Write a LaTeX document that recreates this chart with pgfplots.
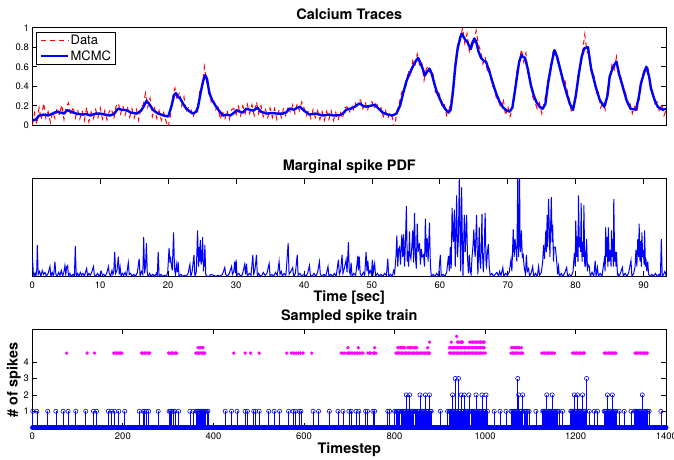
\documentclass[border=0pt]{standalone}
\usepackage{fontspec}
\setmainfont{TeX Gyre Heros}
\usepackage{pgfplots}
\pgfplotsset{compat=1.18}
\definecolor{mlmag}{rgb}{1,0,1}

\pgfplotsset{
  panel/.style={
    anchor=south west, width=634bp, scale only axis,
    xmin=0, xmax=1400,
    axis line style={line width=0.8bp},
    tick style={black, line width=0.8bp},
    major tick length=5bp,
    tick label style={font=\fontsize{9.5}{11}\selectfont},
    /pgf/number format/assume math mode=true,
    /pgf/number format/1000 sep={},
    title style={anchor=base, yshift=2.5bp, font=\bfseries\fontsize{14.5}{16}\selectfont},
    label style={font=\bfseries\fontsize{14.5}{16}\selectfont},
  },
}

\begin{document}
\begin{tikzpicture}
\path[use as bounding box] (0,0) rectangle (674bp,460bp);

% ---------------- top: calcium traces
\begin{axis}[panel,
  at={(32.3bp,334.7bp)}, height=97.6bp,
  ymin=0, ymax=1,
  xtick=\empty, ytick={0,0.2,0.4,0.6,0.8,1},
  title={Calcium Traces},
  legend style={at={(0.0058,0.953)}, anchor=north west, draw=black,
    font=\fontsize{13}{14}\selectfont, inner xsep=3.5bp, inner ysep=2bp,
    row sep=2bp, nodes={inner sep=1bp}},
  legend cell align=left,
  legend image code/.code={\draw[#1] (0bp,0bp) -- (27.6bp,0bp);},
]
\addplot[red, line width=1bp, dash pattern=on 5bp off 4bp] coordinates {
(0,0.00)(5,0.125)(10,0.01)(15,0.18)(20,0.055)(25,0.23)(30,0.075)(35,0.14)(40,0.03)(45,0.14)
(50,0.07)(55,0.18)(60,0.105)(65,0.21)(70,0.06)(75,0.19)(80,0.23)(85,0.10)(90,0.19)(95,0.075)
(100,0.16)(105,0.065)(110,0.15)(115,0.05)(120,0.185)(125,0.035)(130,0.135)(135,0.07)(140,0.16)(145,0.08)
(150,0.18)(155,0.065)(160,0.15)(165,0.055)(170,0.14)(175,0.17)(180,0.065)(185,0.195)(190,0.23)(195,0.12)
(200,0.20)(205,0.105)(210,0.19)(215,0.085)(220,0.17)(225,0.075)(230,0.16)(235,0.05)(240,0.19)(245,0.21)
(250,0.33)(255,0.185)(260,0.28)(265,0.09)(270,0.175)(275,0.07)(280,0.15)(285,0.052)(290,0.13)(295,0.045)
(300,-0.02)(305,0.10)(310,0.29)(315,0.38)(320,0.26)(325,0.34)(330,0.20)(335,0.29)(340,0.13)(345,0.19)
(350,0.17)(355,0.08)(360,0.165)(365,0.14)(370,0.36)(375,0.38)(380,0.60)(385,0.44)(390,0.40)(395,0.24)
(400,0.27)(405,0.16)(410,0.19)(415,0.06)(420,0.15)(425,0.055)(430,0.15)(435,0.06)(440,0.16)(445,0.173)
(450,0.11)(455,0.193)(460,0.10)(465,0.20)(470,0.12)(475,0.214)(480,0.12)(485,0.21)(490,0.102)(495,0.24)
(500,0.12)(505,0.20)(510,0.09)(515,0.16)(520,0.08)(525,0.177)(530,0.08)(535,0.17)(540,0.06)(545,0.16)
(550,0.08)(555,0.177)(560,0.09)(565,0.20)(570,0.13)(575,0.21)(580,0.12)(585,0.22)(590,0.15)(595,0.24)
(600,0.18)(605,0.10)(610,0.15)(615,0.07)(620,0.16)(625,0.08)(630,0.15)(635,0.06)(640,0.14)(645,0.05)
(650,0.14)(655,0.06)(660,0.15)(665,0.05)(670,0.13)(675,0.05)(680,0.14)(685,0.07)(690,0.18)(695,0.19)
(700,0.13)(705,0.21)(710,0.15)(715,0.24)(720,0.25)(725,0.26)(730,0.17)(735,0.24)(740,0.15)(745,0.23)
(750,0.24)(755,0.17)(760,0.24)(765,0.14)(770,0.18)(775,0.09)(780,0.15)(785,0.07)(790,0.13)(795,0.08)
(800,-0.02)(805,0.14)(810,0.22)(815,0.33)(820,0.38)(825,0.40)(830,0.56)(835,0.50)(840,0.66)(845,0.61)
(850,0.73)(855,0.62)(860,0.65)(865,0.46)(870,0.58)(875,0.61)(880,0.50)(885,0.52)(890,0.34)(895,0.37)
(900,0.30)(905,0.18)(910,0.21)(915,0.10)(920,0.16)(925,0.25)(930,0.45)(935,0.68)(940,0.86)(945,0.87)
(950,1.00)(955,0.84)(960,0.94)(965,0.76)(970,0.85)(975,0.82)(980,0.97)(985,0.83)(990,0.76)(995,0.63)
(1000,0.70)(1005,0.55)(1010,0.58)(1015,0.40)(1020,0.39)(1025,0.27)(1030,0.25)(1035,0.17)(1040,0.27)(1045,0.10)
(1050,0.20)(1055,0.09)(1060,0.17)(1065,0.30)(1070,0.56)(1075,0.62)(1080,0.78)(1085,0.65)(1090,0.74)(1095,0.52)
(1100,0.47)(1105,0.29)(1110,0.24)(1115,0.17)(1120,0.23)(1125,0.12)(1130,0.22)(1135,0.34)(1140,0.50)(1145,0.56)
(1150,0.76)(1155,0.78)(1160,0.64)(1165,0.62)(1170,0.46)(1175,0.48)(1180,0.38)(1185,0.28)(1190,0.15)(1195,0.21)
(1200,0.26)(1205,0.51)(1210,0.60)(1215,0.76)(1220,0.93)(1225,0.75)(1230,0.72)(1235,0.52)(1240,0.52)(1245,0.33)
(1250,0.34)(1255,0.18)(1260,0.23)(1265,0.16)(1270,0.36)(1275,0.45)(1280,0.62)(1285,0.57)(1290,0.70)(1295,0.49)
(1300,0.49)(1305,0.33)(1310,0.34)(1315,0.19)(1320,0.22)(1325,0.12)(1330,0.19)(1335,0.13)(1340,0.28)(1345,0.41)
(1350,0.56)(1355,0.55)(1360,0.58)(1365,0.41)(1370,0.34)(1375,0.22)(1380,0.24)(1385,0.13)(1390,0.22)(1395,0.10)(1400,0.16)
};
\addlegendentry{Data}
\addplot[blue, line width=2.4bp, line join=round] coordinates {
(0,0.05)(8,0.06)(15,0.10)(25,0.11)(35,0.10)(45,0.12)(54,0.14)(62,0.13)(70,0.12)(77,0.155)
(85,0.14)(97,0.12)(110,0.11)(120,0.115)(128,0.10)(140,0.12)(150,0.12)(160,0.11)(171,0.10)(180,0.115)
(189,0.17)(197,0.16)(208,0.155)(218,0.13)(231,0.12)(240,0.15)(247,0.20)(252,0.25)(258,0.22)(267,0.155)
(278,0.12)(290,0.10)(300,0.09)(307,0.19)(313,0.31)(317,0.33)(322,0.29)(326,0.28)(333,0.22)(340,0.17)
(348,0.14)(355,0.12)(362,0.14)(366,0.19)(372,0.34)(377,0.45)(382,0.515)(386,0.47)(391,0.33)(397,0.26)
(406,0.19)(414,0.14)(421,0.10)(430,0.11)(437,0.10)(446,0.13)(451,0.155)(458,0.14)(465,0.13)(472,0.17)
(480,0.16)(488,0.15)(497,0.18)(505,0.14)(517,0.12)(530,0.125)(541,0.12)(553,0.12)(560,0.13)(568,0.17)
(578,0.16)(585,0.18)(591,0.19)(600,0.15)(612,0.11)(625,0.12)(642,0.10)(655,0.11)(665,0.10)(680,0.105)
(688,0.13)(693,0.16)(703,0.17)(712,0.19)(718,0.21)(723,0.225)(730,0.20)(738,0.19)(747,0.20)(756,0.21)
(765,0.17)(774,0.13)(785,0.11)(795,0.10)(804,0.12)(812,0.20)(819,0.33)(826,0.45)(833,0.53)(840,0.60)
(847,0.66)(852,0.69)(857,0.64)(862,0.58)(867,0.51)(872,0.55)(877,0.58)(882,0.53)(887,0.44)(893,0.345)
(900,0.27)(906,0.21)(913,0.16)(919,0.13)(924,0.16)(929,0.35)(934,0.60)(939,0.78)(945,0.90)(948,0.94)
(953,0.90)(957,0.87)(960,0.86)(964,0.82)(968,0.78)(972,0.84)(976,0.89)(980,0.86)(985,0.76)(991,0.69)
(997,0.66)(1002,0.65)(1010,0.54)(1017,0.43)(1024,0.33)(1032,0.24)(1040,0.18)(1048,0.15)(1054,0.14)(1060,0.18)
(1065,0.33)(1071,0.52)(1075,0.65)(1080,0.72)(1084,0.70)(1088,0.69)(1094,0.58)(1101,0.41)(1107,0.31)(1113,0.24)
(1120,0.19)(1127,0.17)(1133,0.22)(1139,0.43)(1146,0.62)(1153,0.77)(1159,0.70)(1167,0.55)(1173,0.44)(1179,0.34)
(1187,0.22)(1194,0.157)(1200,0.30)(1207,0.53)(1213,0.70)(1219,0.79)(1227,0.80)(1234,0.58)(1240,0.47)(1245,0.38)
(1253,0.26)(1263,0.19)(1270,0.30)(1275,0.50)(1281,0.58)(1285,0.62)(1290,0.65)(1296,0.52)(1303,0.41)(1312,0.26)
(1321,0.17)(1333,0.16)(1339,0.28)(1344,0.43)(1351,0.54)(1356,0.60)(1362,0.50)(1366,0.38)(1374,0.26)(1381,0.19)
(1392,0.16)(1400,0.17)
};
\addlegendentry{MCMC}
\end{axis}

% ---------------- middle: marginal spike PDF
\begin{axis}[panel,
  at={(32.3bp,183.7bp)}, height=97.6bp,
  ymin=0, ymax=1, ytick=\empty,
  xtick={0,150,...,1350}, xticklabels={0,10,20,30,40,50,60,70,80,90},
  xticklabel style={yshift=-1.5bp},
  title={Marginal spike PDF},
  xlabel={Time [sec]},
  xlabel style={at={(0.5,-0.26)}, anchor=base},
]
\addplot[blue, line width=1bp] coordinates {
(0,0.22)(2,0.05)(4,0)(6,0.03)(8,0)(10,0.08)(11,0.32)(13,0.02)(16,0.05)(19,0)(22,0.06)(25,0.02)(28,0.04)(31,0)(35,0.03)
(39,0.10)(41,0)(44,0.04)(47,0)(50,0.15)(52,0.02)(55,0)(58,0.04)(61,0.01)(64,0.06)(67,0)(70,0.05)(72,0.11)(74,0.02)
(76,0.10)(78,0.11)(80,0)(83,0.03)(86,0)(90,0.02)(93,0)(95,0.31)(97,0)(100,0.03)(103,0)(106,0.04)(109,0.01)(112,0.03)
(115,0)(118,0.05)(120,0.08)(122,0)(125,0.03)(128,0.01)(131,0.04)(135,0.10)(137,0.02)(140,0)(144,0.03)(148,0)(152,0.05)
(155,0.01)(158,0.02)(161,0)(165,0.04)(168,0.10)(170,0.03)(173,0)(176,0.06)(178,0.02)(180,0.05)(182,0.25)(184,0.03)
(187,0.06)(190,0.20)(192,0.02)(194,0.09)(196,0)(199,0.03)(202,0.01)(205,0.04)(208,0)(212,0.14)(214,0.02)(217,0.03)
(220,0)(224,0.02)(228,0)(232,0.04)(236,0.18)(238,0)(241,0.05)(244,0.02)(246,0.40)(248,0.03)(250,0.10)(252,0.34)
(254,0.02)(256,0)(259,0.03)(262,0)(266,0.02)(270,0)(274,0.03)(276,0)(278,0.25)(280,0)(284,0.02)(288,0)(292,0.01)
(296,0)(299,0.04)(302,0.29)(304,0.14)(305,0.20)(307,0.12)(309,0.06)(312,0.45)(314,0.08)(316,0.02)(318,0.12)(320,0.04)
(322,0.15)(324,0)(328,0.02)(332,0)(336,0.01)(340,0)(344,0.03)(348,0.12)(350,0)(353,0.05)(357,0.22)(359,0)(362,0.04)
(365,0.47)(367,0.10)(368,0.30)(370,0.15)(371,0.37)(373,0.12)(374,0.27)(375,0.15)(376,0.40)(378,0.05)(379,0.16)
(380,0.10)(381,0.32)(383,0.02)(386,0)(390,0)(395,0.02)(400,0.01)(405,0)(410,0.01)(415,0)(420,0.02)(425,0.09)(427,0.02)
(431,0)(435,0.03)(440,0.10)(442,0.02)(445,0.05)(447,0.15)(449,0.03)(450,0.17)(452,0.01)(456,0.03)(460,0)(464,0.02)
(469,0.12)(471,0.02)(473,0.13)(475,0)(479,0.03)(483,0.01)(487,0.22)(489,0.02)(492,0.08)(495,0.22)(497,0)(500,0.03)
(502,0.01)(506,0)(510,0.04)(514,0.01)(518,0.03)(523,0.13)(525,0)(529,0.02)(533,0)(537,0.04)(541,0.01)(545,0.15)
(547,0.02)(550,0.05)(552,0)(556,0.03)(560,0.01)(565,0.34)(567,0.02)(571,0.05)(575,0.09)(577,0)(581,0.03)(585,0.22)
(587,0.01)(591,0.03)(595,0)(600,0.02)(604,0)(608,0.03)(612,0.11)(614,0.01)(618,0)(622,0.03)(626,0)(630,0.04)(634,0.15)
(636,0.02)(640,0)(644,0.02)(648,0)(653,0.10)(655,0)(659,0.02)(663,0)(667,0.03)(671,0)(676,0.17)(678,0.02)(681,0.06)
(684,0.22)(686,0.03)(689,0.08)(693,0.17)(695,0.04)(698,0.35)(700,0.05)(702,0.02)(704,0.14)(706,0)(710,0.03)(714,0.01)
(719,0.21)(720,0.06)(722,0.20)(724,0.03)(727,0)(731,0.04)(734,0.01)(737,0.25)(739,0.05)(741,0.16)(743,0.02)(746,0.06)
(749,0.02)(751,0.17)(753,0.04)(756,0.13)(758,0)(762,0.03)(766,0)(770,0.02)(774,0)(778,0.03)(782,0.01)(785,0.18)
(787,0)(791,0.02)(795,0)(798,0.06)(800,0.03)(803,0.20)(805,0.42)(807,0.10)(809,0.28)(811,0.30)(813,0.12)(816,0.43)
(818,0.20)(820,0.43)(822,0.10)(824,0.35)(826,0.72)(828,0.15)(829,0.26)(831,0.10)(833,0.46)(834,0.22)(836,0.18)
(838,0.30)(840,0.47)(842,0.14)(844,0.65)(846,0.20)(848,0.08)(850,0.54)(852,0.25)(855,0.34)(857,0.12)(859,0.28)
(861,0.20)(864,0.22)(866,0.10)(868,0.59)(870,0.20)(872,0.39)(874,0.15)(877,0.55)(879,0.12)(881,0)(885,0.02)(889,0)
(893,0.03)(897,0)(901,0.22)(903,0)(907,0.02)(911,0)(915,0.04)(919,0.21)(921,0.05)(923,0.30)(925,0.08)(927,0.70)
(929,0.40)(930,0.35)(932,0.68)(934,0.10)(937,0.83)(939,0.20)(941,0.39)(943,1.05)(945,0.30)(946,0.05)(948,0.91)
(950,0.25)(951,0)(954,0.63)(956,0.25)(959,0.63)(961,0.20)(963,0.03)(965,0.22)(967,0.05)(969,0.02)(971,0.20)(973,0.30)
(975,0.48)(977,0.25)(978,0.20)(981,0.63)(983,0.15)(984,0.02)(987,0.50)(988,0.20)(990,0.08)(993,0.64)(994,0.25)
(996,0.04)(998,0.30)(1000,0.65)(1002,0.12)(1003,0.10)(1005,0.25)(1007,0.33)(1009,0.10)(1011,0.01)(1015,0.03)(1018,0)
(1022,0.02)(1026,0.04)(1030,0)(1032,0.05)(1035,0.01)(1039,0.09)(1041,0)(1045,0.03)(1049,0.01)(1053,0.04)(1057,0.17)
(1059,0.05)(1062,0.48)(1064,0.20)(1066,0.38)(1068,0.28)(1070,0.15)(1072,1.05)(1073,0.40)(1074,0.20)(1076,1.05)
(1077,0.35)(1078,0.25)(1080,0.47)(1082,0.20)(1084,0.22)(1086,0.10)(1089,0.02)(1091,0.22)(1093,0.05)(1096,0.08)(1098,0)
(1102,0.04)(1105,0.10)(1107,0)(1111,0.03)(1115,0)(1118,0.10)(1120,0.01)(1124,0.04)(1127,0.15)(1129,0.32)(1131,0.18)
(1134,0.47)(1135,0.25)(1137,0.63)(1138,0.30)(1140,0.79)(1142,0.40)(1143,0.20)(1146,0.81)(1148,0.35)(1149,0.53)
(1151,0.15)(1152,0.30)(1155,0.30)(1157,0.20)(1158,0.15)(1160,0.02)(1162,0.10)(1164,0)(1168,0.03)(1172,0)(1176,0.04)
(1180,0.09)(1182,0)(1186,0.02)(1190,0)(1194,0.05)(1197,0.24)(1199,0.10)(1200,0.57)(1202,0.20)(1203,0.41)(1205,0.15)
(1206,0.83)(1208,0.30)(1209,0.40)(1211,0.25)(1212,0.75)(1214,0.15)(1215,0.35)(1217,0.20)(1218,0.73)(1220,0.10)
(1221,0.25)(1222,0.10)(1224,0.38)(1226,0.05)(1227,0.12)(1230,0.10)(1232,0)(1236,0.04)(1240,0)(1243,0.16)(1245,0)
(1248,0.09)(1250,0)(1254,0.03)(1258,0)(1263,0.17)(1265,0.05)(1266,0.50)(1268,0.20)(1269,0.40)(1271,0.10)(1272,0.50)
(1274,0.15)(1276,0.27)(1278,0.10)(1279,0.47)(1281,0.20)(1282,0.38)(1283,0.10)(1284,0.79)(1286,0.15)(1287,0.25)
(1289,0.10)(1290,0.25)(1292,0.02)(1293,0.03)(1296,0)(1300,0.05)(1303,0.09)(1305,0)(1309,0.03)(1313,0)(1317,0.04)
(1322,0.16)(1324,0)(1328,0.03)(1331,0.10)(1333,0.27)(1335,0.10)(1337,0.38)(1339,0.20)(1340,0.54)(1342,0.15)(1343,0.36)
(1345,0.10)(1346,0.45)(1348,0.20)(1349,0.27)(1351,0.12)(1352,0.47)(1354,0.10)(1355,0.18)(1357,0.05)(1359,0.15)
(1361,0.02)(1364,0)(1368,0.02)(1372,0)(1376,0.03)(1380,0)(1384,0.02)(1387,0)(1389,0.38)(1391,0)(1394,0.02)(1397,0.05)(1400,0)
};
\end{axis}

% ---------------- bottom: sampled spike train
\begin{axis}[panel,
  at={(32.3bp,32.3bp)}, height=98.4bp,
  ymin=0, ymax=6, ytick={1,2,3,4},
  xtick={0,200,...,1400},
  xticklabel style={yshift=-1.5bp},
  clip=false,
  title={Sampled spike train},
  xlabel={Timestep}, ylabel={\# of spikes},
  xlabel style={at={(0.5,-0.267)}, anchor=base},
  ylabel style={at={(-0.0233,0.485)}, rotate=0, anchor=base},
]
% zero-count samples merge into a band along the axis
\addplot[blue, line width=4.4bp, line cap=round] coordinates {(0,0)(1400,0)};
\addplot[blue, ycomb, line width=0.6bp, mark=o, mark size=2.1bp, mark options={solid, line width=0.6bp}] coordinates {
(1,1)(10,1)(34,1)(52,1)(68,1)(79,1)(96,1)(118,1)(135,1)(142,1)(168,1)(175,1)(182,1)(191,1)(204,1)
(236,1)(245,1)(248,1)(252,1)(257,1)(278,1)(302,1)(305,1)(308,1)(311,1)(315,1)(323,1)(348,1)(355,1)
(362,1)(364,1)(366,1)(368,1)(370,1)(372,1)(374,1)(376,1)(378,1)(380,1)(383,1)(386,1)(388,1)
(426,1)(440,1)(452,1)(470,1)(475,1)(489,1)(493,1)(501,1)(522,1)(534,1)(546,1)(566,1)(576,1)(581,1)
(589,1)(593,1)(620,1)(632,1)(656,1)(675,1)(686,1)(699,1)(704,1)(715,1)(721,1)(736,1)(740,1)(752,1)
(756,1)(785,1)(789,1)
(800,1)(803,1)(806,1)(809,1)(811,1)(814,1)(817,1)(820,1)(822,1)(824,1)(826,2)(829,1)(831,1)(833,2)
(835,1)(838,1)(840,1)(842,1)(845,1)(847,1)(850,1)(852,1)(854,1)(856,2)(859,1)(861,1)(863,1)(866,1)
(868,2)(870,1)(872,1)(874,1)(877,2)(879,1)(881,1)(901,1)(917,1)
(921,1)(923,1)(925,1)(927,1)(928,2)(930,1)(932,1)(934,3)(936,1)(938,1)(941,3)(943,1)(945,1)(947,2)
(949,1)(951,1)(954,2)(956,1)(958,1)(960,1)(962,1)(964,2)(966,1)(969,1)(971,1)(973,1)(976,1)(978,1)
(980,2)(983,1)(985,1)(987,1)(989,1)(991,1)(993,2)(996,1)(998,1)(1000,1)(1002,2)(1005,1)(1020,1)
(1033,1)(1046,1)
(1057,1)(1059,1)(1062,1)(1064,1)(1066,1)(1068,1)(1070,1)(1072,3)(1074,2)(1076,1)(1078,1)(1080,1)
(1083,2)(1086,1)(1088,1)(1091,1)(1094,1)(1097,1)(1112,1)
(1127,1)(1129,1)(1131,1)(1133,1)(1136,2)(1138,1)(1140,1)(1142,1)(1144,1)(1146,1)(1148,2)(1150,1)
(1152,1)(1154,1)(1157,1)(1160,1)(1163,1)(1171,1)
(1189,1)(1191,1)(1193,1)(1195,1)(1197,2)(1199,1)(1201,1)(1204,2)(1206,1)(1208,1)(1210,1)(1212,1)
(1215,2)(1217,1)(1219,1)(1222,1)(1224,3)(1230,1)(1241,1)(1248,1)
(1263,1)(1265,1)(1267,1)(1270,2)(1272,1)(1274,1)(1276,1)(1278,1)(1281,2)(1283,1)(1285,1)(1287,1)
(1289,1)(1296,1)(1307,1)(1322,1)
(1330,1)(1332,1)(1334,1)(1336,1)(1338,1)(1340,1)(1342,1)(1344,1)(1347,2)(1349,1)(1351,1)(1353,1)
(1356,1)(1359,1)(1362,1)(1388,1)
};
% samples of the spike train, one row each
\addplot[only marks, mark=*, mark size=1.5bp, mlmag] coordinates {
(76,4.55)(121,4.55)(137,4.55)(180,4.55)(183,4.55)(186,4.55)(189,4.55)(192,4.55)(195,4.55)(198,4.55)
(241,4.55)(244,4.55)(247,4.55)(250,4.55)(253,4.55)(256,4.55)(259,4.55)
(301,4.55)(304,4.55)(307,4.55)(310,4.55)(313,4.55)(316,4.55)(319,4.55)
(361,4.55)(364,4.55)(367,4.55)(370,4.55)(373,4.55)(376,4.55)(379,4.55)(381,4.55)
(445,4.55)(470,4.55)(482,4.55)(501,4.55)(562,4.55)(572,4.55)(576,4.55)(580,4.55)(584,4.55)(588,4.55)
(592,4.55)(598,4.55)(617,4.55)
(682,4.55)(686,4.55)(690,4.55)(695,4.55)(698,4.55)(701,4.55)(704,4.55)(707,4.55)(711,4.55)(715,4.55)
(718,4.55)(722,4.55)(726,4.55)(730,4.55)(741,4.55)(744,4.55)(747,4.55)(753,4.55)(756,4.55)(759,4.55)
(803,4.55)(806,4.55)(809,4.55)(812,4.55)(815,4.55)(818,4.55)(821,4.55)(824,4.55)(827,4.55)(830,4.55)
(833,4.55)(836,4.55)(839,4.55)(842,4.55)(845,4.55)(848,4.55)(851,4.55)(854,4.55)(857,4.55)(860,4.55)
(863,4.55)(866,4.55)(869,4.55)(872,4.55)(875,4.55)(877,4.55)
(921,4.55)(924,4.55)(927,4.55)(930,4.55)(933,4.55)(936,4.55)(939,4.55)(942,4.55)(945,4.55)(948,4.55)
(951,4.55)(954,4.55)(957,4.55)(960,4.55)(963,4.55)(966,4.55)(969,4.55)(972,4.55)(975,4.55)(978,4.55)
(981,4.55)(984,4.55)(987,4.55)(990,4.55)(993,4.55)(996,4.55)(1000,4.55)
(1057,4.55)(1060,4.55)(1063,4.55)(1066,4.55)(1069,4.55)(1072,4.55)(1075,4.55)(1078,4.55)(1081,4.55)(1083,4.55)
(1125,4.55)(1128,4.55)(1131,4.55)(1134,4.55)(1137,4.55)(1140,4.55)(1143,4.55)(1146,4.55)(1149,4.55)(1153,4.55)
(1193,4.55)(1196,4.55)(1199,4.55)(1202,4.55)(1205,4.55)(1208,4.55)(1211,4.55)(1214,4.55)(1217,4.55)(1219,4.55)
(1263,4.55)(1266,4.55)(1269,4.55)(1272,4.55)(1275,4.55)(1278,4.55)(1281,4.55)(1284,4.55)(1287,4.55)(1289,4.55)
(1331,4.55)(1334,4.55)(1337,4.55)(1340,4.55)(1343,4.55)(1346,4.55)(1349,4.55)(1352,4.55)(1355,4.55)(1358,4.55)
(366,4.88)(369,4.88)(372,4.88)(375,4.88)(377,4.88)(697,4.88)(720,4.88)(756,4.88)
(807,4.88)(810,4.88)(813,4.88)(816,4.88)(819,4.88)(822,4.88)(829,4.88)(832,4.88)(835,4.88)(838,4.88)
(843,4.88)(846,4.88)(849,4.88)(873,4.88)
(921,4.88)(924,4.88)(927,4.88)(930,4.88)(933,4.88)(936,4.88)(939,4.88)(942,4.88)(945,4.88)(948,4.88)
(951,4.88)(954,4.88)(957,4.88)(960,4.88)(963,4.88)(966,4.88)(969,4.88)(972,4.88)(975,4.88)(978,4.88)
(981,4.88)(984,4.88)(987,4.88)(990,4.88)(993,4.88)(996,4.88)(998,4.88)
(1058,4.88)(1061,4.88)(1064,4.88)(1067,4.88)(1070,4.88)(1073,4.88)(1076,4.88)(1080,4.88)
(877,5.22)(925,5.22)(939,5.22)(942,5.22)(945,5.22)(948,5.22)(950,5.22)(966,5.22)(969,5.22)(972,5.22)
(975,5.22)(978,5.22)(981,5.22)(984,5.22)(987,5.22)(990,5.22)(993,5.22)(996,5.22)(998,5.22)
(937,5.57)
};
\end{axis}
\end{tikzpicture}
\end{document}
